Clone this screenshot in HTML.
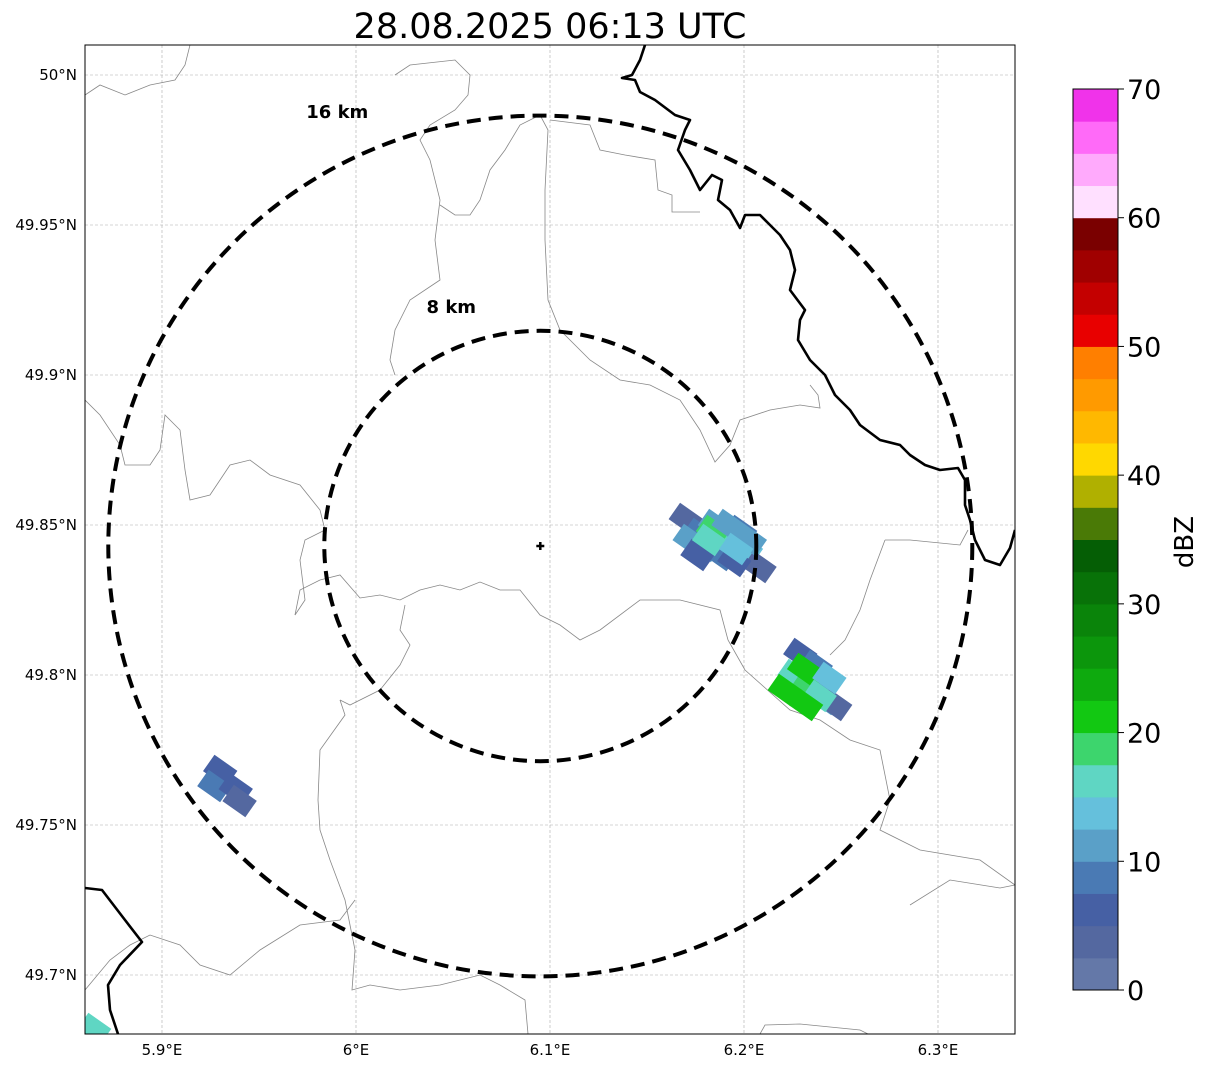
<!DOCTYPE html>
<html><head><meta charset="utf-8"><style>
body{margin:0;background:#fff}
svg{display:block;font-family:"DejaVu Sans","Liberation Sans",sans-serif}
</style></head><body>
<svg id="chart" width="1207" height="1069" xmlns="http://www.w3.org/2000/svg">
<text x="550" y="38" font-size="35" text-anchor="middle">28.08.2025 06:13 UTC</text>
<defs><clipPath id="plotclip"><rect x="85" y="45" width="930" height="989"/></clipPath></defs>
<g id="grid"></g>
<g clip-path="url(#plotclip)">
<g id="geo"></g>
<g id="echoes"></g>
<g id="rings"></g>
</g>
<rect x="85" y="45" width="930" height="989" fill="none" stroke="#000" stroke-width="1"/>
<g id="axes"></g>
<g id="cbar"></g>
<text transform="translate(1193,542) rotate(-90)" font-size="26" text-anchor="middle">dBZ</text>
</svg>
<script>
const lonTicks=[5.9,6.0,6.1,6.2,6.3];
const lonLabels=["5.9°E","6°E","6.1°E","6.2°E","6.3°E"];
const latTicks=[50.0,49.95,49.9,49.85,49.8,49.75,49.7];
const latLabels=["50°N","49.95°N","49.9°N","49.85°N","49.8°N","49.75°N","49.7°N"];
const cbarColors=["#6478a8","#5468a0","#4660a4","#4a7ab4","#5aa0c8","#65c0dc","#5fd6c3","#3dd56d","#12c812","#0eaa0e","#0c960c","#0a840a","#087208","#055e05","#4a7a06","#b0b000","#ffd800","#ffb800","#ff9a00","#ff7f00","#e80000","#c40000","#a00000","#7a0000","#ffe0ff","#ffaafc","#ff6af8","#f033ea"];
const cbarTicks=[0,10,20,30,40,50,60,70];
const cellLon=[6.170,6.177,6.185,6.180,6.190,6.198,6.201,6.188,6.172,6.208,6.195,6.184,6.176,6.192,6.203,6.182,6.196,
 6.229,6.237,6.226,6.234,6.221,6.242,6.247,6.239,6.231,6.244,6.232,
 5.930,5.927,5.938,5.940,5.865];
const cellLat=[49.852,49.847,49.850,49.843,49.845,49.848,49.842,49.840,49.845,49.836,49.838,49.848,49.840,49.850,49.845,49.845,49.842,
 49.807,49.803,49.800,49.797,49.795,49.792,49.790,49.793,49.802,49.799,49.790,
 49.768,49.763,49.762,49.758,49.682];
const cellDbz=[4,8,12,10,15,8,14,9,10,4,6,19,7,12,11,16,13,
 5,8,16,18,21,12,4,17,20,14,22,
 5,8,5,3,16];
const ringKm=[8,16];
const center=[6.095,49.843];

const S=document.getElementById('chart');
const NS='http://www.w3.org/2000/svg';
const X=lon=>162+(lon-5.9)*1940;
const Y=lat=>75+(50-lat)*3000;
function mk(tag,attrs,parent){const e=document.createElementNS(NS,tag);for(const k in attrs)e.setAttribute(k,attrs[k]);parent.appendChild(e);return e;}
const grid=document.getElementById('grid'),axes=document.getElementById('axes');
lonTicks.forEach((v,i)=>{
 const l=mk('line',{x1:X(v),x2:X(v),y1:45,y2:1034,stroke:'#aaa','stroke-width':0.6,'stroke-dasharray':'3,2'},grid);
 
 
 const t=mk('text',{x:X(v),y:1055,'font-size':15,'text-anchor':'middle'},axes);t.textContent=lonLabels[i];
 
 
});
latTicks.forEach((v,i)=>{
 const l=mk('line',{x1:85,x2:1015,y1:Y(v),y2:Y(v),stroke:'#aaa','stroke-width':0.6,'stroke-dasharray':'3,2'},grid);
 
 
 const t=mk('text',{x:77,y:Y(v)+5,'font-size':15,'text-anchor':'end'},axes);t.textContent=latLabels[i];
 
 
});
const geo=document.getElementById('geo');
const thin=[
[[85,95],[100,85],[125,95],[150,85],[175,80],[185,65],[190,45]],
[[395,75],[410,65],[455,60],[470,75],[468,95],[455,110],[430,125],[420,140],[430,160],[440,200],[435,240],[440,280],[410,300],[395,330],[390,360],[395,375]],
[[540,115],[520,125],[505,150],[490,170],[480,200],[470,215],[455,215],[440,205]],
[[540,115],[548,130],[545,190],[545,240],[548,300],[560,330],[590,360],[620,380],[650,385],[680,400],[700,430],[715,462],[730,445],[740,420],[770,410],[800,405],[820,408],[818,395],[810,385]],
[[550,120],[590,125],[600,150],[625,155],[655,160],[658,190],[672,195],[672,212],[700,212]],
[[295,615],[300,590],[320,580],[340,575],[360,598],[380,595],[400,600],[420,590],[440,585],[460,590],[480,582],[500,590],[520,590],[540,615],[560,625],[580,640],[600,630],[640,600],[680,600],[720,610],[728,640],[745,670],[790,710],[820,720],[850,740],[880,750],[890,800],[880,830],[920,850],[980,860],[1015,885]],
[[85,400],[100,415],[120,445],[125,465],[150,465],[160,450],[165,415],[180,430],[185,470],[190,500],[210,495],[230,465],[250,460],[270,475],[300,485],[320,510],[325,530],[305,540],[300,560],[305,600],[295,615]],
[[340,700],[345,715],[320,750],[318,800],[320,830],[330,860],[345,900],[355,950],[352,990],[370,985],[400,990],[440,985],[480,975],[500,985],[525,1000],[528,1034]],
[[85,990],[110,960],[130,945],[150,935],[180,945],[200,965],[230,975],[260,950],[300,925],[340,920],[355,900]],
[[885,540],[910,540],[960,545],[968,530]],[[885,540],[870,580],[860,610],[845,640],[830,655]],
[[910,905],[950,880],[1000,888],[1015,885]],
[[760,1034],[765,1025],[800,1024],[860,1030],[868,1034]],
[[405,605],[400,630],[410,645],[400,665],[380,690],[350,705],[340,700]]
];
thin.forEach(p=>{const e=mk('polyline',{points:p.map(q=>q.join(',')).join(' '),fill:'none',stroke:'#888','stroke-width':0.8},geo);
 
 });
const thick=[
[[645,45],[640,60],[632,75],[622,78],[635,80],[640,92],[655,100],[675,115],[690,120],[685,130],[678,150],[690,170],[700,190],[712,175],[722,180],[718,200],[730,210],[740,228],[745,215],[760,215],[770,225],[780,235],[790,250],[795,270],[790,290],[805,310],[800,320],[798,340],[810,360],[825,375],[835,395],[850,410],[860,425],[880,440],[900,445],[910,455],[925,465],[940,470],[958,468],[965,480],[965,505],[970,520],[975,540],[985,560],[1000,565],[1010,548],[1015,530]],
[[85,888],[102,890],[125,920],[142,942],[120,965],[108,985],[110,1010],[118,1034]]
];
thick.forEach(p=>{const e=mk('polyline',{points:p.map(q=>q.join(',')).join(' '),fill:'none',stroke:'#000','stroke-width':2.6,'stroke-linejoin':'round'},geo);
 
 });
const echoes=document.getElementById('echoes');
const colorFor=d=>cbarColors[Math.min(cbarColors.length-1,Math.max(0,Math.floor(d/2.5)))];
cellLon.forEach((lon,i)=>{
 const cx=X(lon),cy=Y(cellLat[i]);
 const r=mk('rect',{x:cx-14,y:cy-10,width:28,height:20,fill:colorFor(cellDbz[i]),transform:`rotate(35 ${cx} ${cy})`},echoes);
 
 
});
const rings=document.getElementById('rings');
const cx0=X(center[0]),cy0=Y(center[1]);
const labelDx=[-89,-203],labelDy=[-233,-428];
ringKm.forEach((km,i)=>{
 const rx=km*27,ry=km*26.9;
 const c=mk('ellipse',{cx:cx0,cy:cy0,rx:rx,ry:ry,fill:'none',stroke:'#000','stroke-width':4,'stroke-dasharray':'14,8'},rings);
 
 
 const t=mk('text',{x:cx0+labelDx[i],y:cy0+labelDy[i],'font-size':18,'font-weight':'bold','text-anchor':'middle'},rings);
 t.textContent=km+' km';
 
 
});
const pl=mk('path',{d:`M${cx0-4},${cy0}H${cx0+4}M${cx0},${cy0-4}V${cy0+4}`,stroke:'#000','stroke-width':2.5},rings);


const cb=document.getElementById('cbar');
const cbY=v=>990-v*(901/70);
cbarColors.forEach((c,i)=>{
 const lo=i*2.5,hi=Math.min(70,lo+2.5);
 const r=mk('rect',{x:1073,y:cbY(hi),width:45,height:cbY(lo)-cbY(hi)+0.5,fill:c},cb);
 
 
});
mk('rect',{x:1073,y:89,width:45,height:901,fill:'none',stroke:'#000','stroke-width':1},cb);
cbarTicks.forEach(v=>{
 mk('line',{x1:1118,x2:1124,y1:cbY(v),y2:cbY(v),stroke:'#000'},cb);
 const t=mk('text',{x:1127,y:cbY(v)+10,'font-size':27},cb);t.textContent=v;
 
 
});
</script>
</body></html>
